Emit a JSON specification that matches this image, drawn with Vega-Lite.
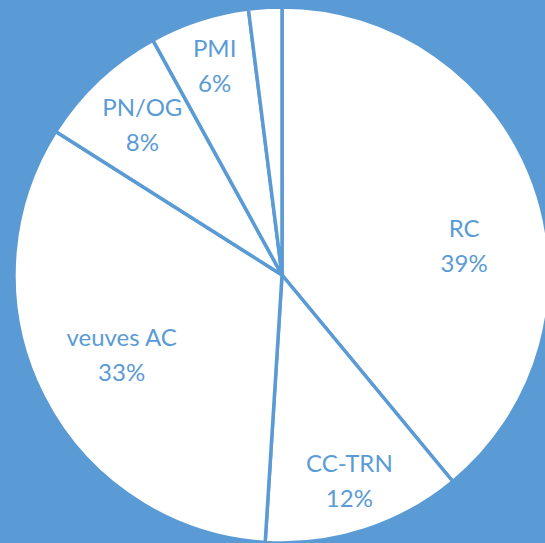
{
  "$schema": "https://vega.github.io/schema/vega-lite/v6.json",
  "autosize": {"type": "none"},
  "width": 526,
  "height": 536,
  "padding": {"left": 19, "top": 7, "right": 0, "bottom": 0},
  "background": "#5B9BD5",
  "view": {"stroke": null},
  "data": {
    "values": [
      {"category": "RC", "pct": 39, "order": 1},
      {"category": "CC-TRN", "pct": 12, "order": 2},
      {"category": "veuves AC", "pct": 33, "order": 3},
      {"category": "PN/OG", "pct": 8, "order": 4},
      {"category": "PMI", "pct": 6, "order": 5},
      {"category": "", "pct": 2, "order": 6}
    ]
  },
  "transform": [
    {"calculate": "datum.category == '' ? '' : datum.category + '\\n' + datum.pct + '%'", "as": "label"}
  ],
  "encoding": {
    "theta": {"field": "pct", "type": "quantitative", "stack": true},
    "order": {"field": "order", "type": "quantitative"}
  },
  "layer": [
    {
      "mark": {"type": "arc", "outerRadius": 268, "fill": "#FFFFFF", "stroke": "#5B9BD5", "strokeWidth": 3.5}
    },
    {
      "mark": {"type": "text", "radius": 218, "dy": -17.5, "font": "Lato", "fontSize": 24, "lineHeight": 35, "lineBreak": "\n", "fill": "#5B9BD5", "align": "center", "baseline": "middle"},
      "encoding": {
        "text": {"condition": {"test": "datum.category != 'CC-TRN' && datum.category != 'PMI'", "value": ""}, "field": "label"}
      }
    },
    {
      "mark": {"type": "text", "radius": 204, "dy": -17.5, "font": "Lato", "fontSize": 24, "lineHeight": 35, "lineBreak": "\n", "fill": "#5B9BD5", "align": "center", "baseline": "middle"},
      "encoding": {
        "text": {"condition": {"test": "datum.category != 'PN/OG'", "value": ""}, "field": "label"}
      }
    },
    {
      "mark": {"type": "text", "radius": 180, "dy": -17.5, "font": "Lato", "fontSize": 24, "lineHeight": 35, "lineBreak": "\n", "fill": "#5B9BD5", "align": "center", "baseline": "middle"},
      "encoding": {
        "text": {"condition": {"test": "datum.category != 'veuves AC'", "value": ""}, "field": "label"}
      }
    },
    {
      "mark": {"type": "text", "radius": 184, "dx": 9, "dy": 17.5, "font": "Lato", "fontSize": 24, "lineHeight": 35, "lineBreak": "\n", "fill": "#5B9BD5", "align": "center", "baseline": "middle"},
      "encoding": {
        "text": {"condition": {"test": "datum.category != 'RC'", "value": ""}, "field": "label"}
      }
    }
  ]
}
